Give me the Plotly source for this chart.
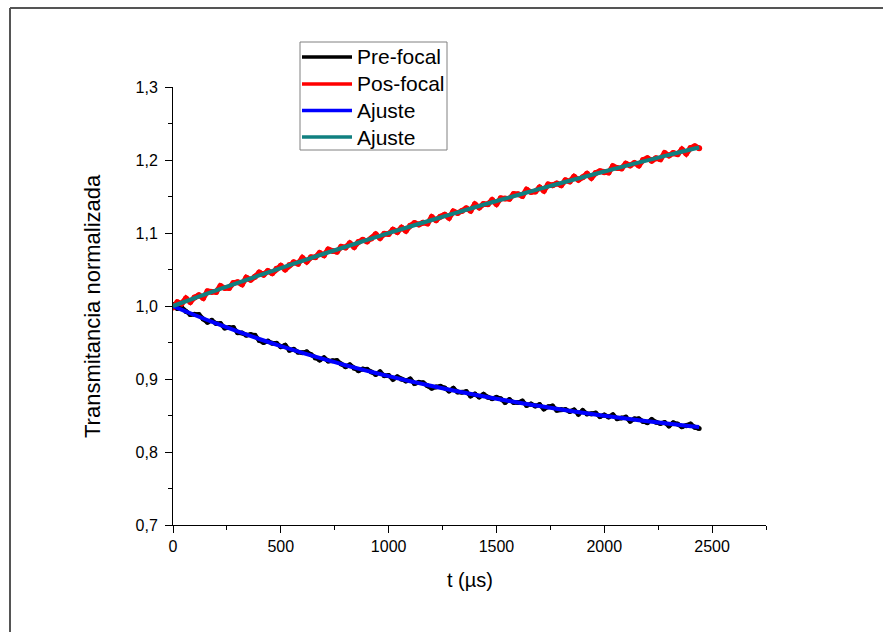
import plotly.graph_objects as go

# Sample times (µs) of the measured traces
t_data = list(range(0, 2441, 20))

# Normalized transmittance before the focus
pre_focal = [
    1.0020, 0.9965, 0.9981, 0.9926, 0.9882, 0.9887, 0.9884, 0.9821, 0.9777, 0.9804,
    0.9761, 0.9759, 0.9697, 0.9706, 0.9704, 0.9632, 0.9631, 0.9600, 0.9610, 0.9599,
    0.9528, 0.9499, 0.9519, 0.9490, 0.9490, 0.9441, 0.9463, 0.9394, 0.9406, 0.9367,
    0.9359, 0.9372, 0.9334, 0.9287, 0.9259, 0.9292, 0.9245, 0.9249, 0.9252, 0.9206,
    0.9169, 0.9194, 0.9148, 0.9113, 0.9137, 0.9132, 0.9097, 0.9063, 0.9098, 0.9044,
    0.9049, 0.8995, 0.9031, 0.8998, 0.8974, 0.9000, 0.8937, 0.8954, 0.8950, 0.8907,
    0.8874, 0.8892, 0.8900, 0.8877, 0.8835, 0.8873, 0.8821, 0.8819, 0.8828, 0.8766,
    0.8794, 0.8753, 0.8792, 0.8751, 0.8730, 0.8749, 0.8729, 0.8679, 0.8718, 0.8678,
    0.8678, 0.8698, 0.8638, 0.8659, 0.8629, 0.8649, 0.8590, 0.8620, 0.8631, 0.8571,
    0.8582, 0.8583, 0.8555, 0.8576, 0.8518, 0.8569, 0.8521, 0.8522, 0.8534, 0.8485,
    0.8507, 0.8479, 0.8511, 0.8454, 0.8466, 0.8478, 0.8421, 0.8454, 0.8456, 0.8419,
    0.8402, 0.8445, 0.8408, 0.8391, 0.8404, 0.8357, 0.8400, 0.8384, 0.8347, 0.8361,
    0.8384, 0.8338, 0.8322,
]

# Normalized transmittance after the focus
pos_focal = [
    0.9980, 1.0051, 1.0033, 1.0104, 1.0056, 1.0117, 1.0148, 1.0110, 1.0201, 1.0192,
    1.0193, 1.0274, 1.0245, 1.0245, 1.0316, 1.0327, 1.0297, 1.0388, 1.0358, 1.0399,
    1.0459, 1.0429, 1.0479, 1.0450, 1.0510, 1.0550, 1.0500, 1.0560, 1.0599, 1.0579,
    1.0659, 1.0608, 1.0668, 1.0667, 1.0727, 1.0696, 1.0775, 1.0754, 1.0743, 1.0812,
    1.0801, 1.0860, 1.0809, 1.0877, 1.0906, 1.0885, 1.0924, 1.0982, 1.0931, 1.0989,
    1.0988, 1.1046, 1.1014, 1.1073, 1.1031, 1.1099, 1.1137, 1.1115, 1.1142, 1.1130,
    1.1218, 1.1176, 1.1223, 1.1251, 1.1208, 1.1296, 1.1273, 1.1301, 1.1338, 1.1306,
    1.1393, 1.1350, 1.1397, 1.1394, 1.1451, 1.1398, 1.1475, 1.1471, 1.1468, 1.1534,
    1.1531, 1.1508, 1.1594, 1.1561, 1.1567, 1.1624, 1.1580, 1.1666, 1.1653, 1.1679,
    1.1655, 1.1721, 1.1707, 1.1772, 1.1728, 1.1764, 1.1810, 1.1756, 1.1821, 1.1847,
    1.1833, 1.1828, 1.1914, 1.1889, 1.1885, 1.1950, 1.1925, 1.1960, 1.1925, 1.2000,
    1.2025, 1.1990, 1.2025, 1.2010, 1.2095, 1.2060, 1.2095, 1.2079, 1.2144, 1.2088,
    1.2163, 1.2188, 1.2162,
]

# Fitted curves
t_fit = [0, 100, 200, 300, 400, 500, 600, 700, 800, 900, 1000, 1100, 1200, 1300,
         1400, 1500, 1600, 1700, 1800, 1900, 2000, 2100, 2200, 2300, 2400, 2440]
fit_pre = [1.0000, 0.9877, 0.9761, 0.9652, 0.9548, 0.9451, 0.9359, 0.9272, 0.9189,
           0.9112, 0.9039, 0.8970, 0.8904, 0.8843, 0.8784, 0.8729, 0.8678, 0.8629,
           0.8582, 0.8539, 0.8497, 0.8458, 0.8422, 0.8387, 0.8354, 0.8342]
fit_pos = [1.0000, 1.0107, 1.0213, 1.0317, 1.0419, 1.0520, 1.0619, 1.0716, 1.0811,
           1.0905, 1.0998, 1.1089, 1.1178, 1.1266, 1.1353, 1.1438, 1.1521, 1.1604,
           1.1685, 1.1764, 1.1843, 1.1920, 1.1995, 1.2070, 1.2143, 1.2172]

# Legend entries: label and colour
legend_labels = ["Pre-focal", "Pos-focal", "Ajuste", "Ajuste"]
legend_colors = ["#000000", "#ff0000", "#0000ff", "#108080"]

FONT = "Liberation Sans, Arial, sans-serif"
W, H = 883, 632
ML, MR, MT, MB = 173, 117, 87, 107
PW, PH = W - ML - MR, H - MT - MB

fig = go.Figure()
fig.add_trace(go.Scatter(x=t_data, y=pre_focal, mode="lines+markers", name=legend_labels[0],
                         line=dict(color=legend_colors[0], width=4.5),
                         marker=dict(color=legend_colors[0], size=5), showlegend=False))
fig.add_trace(go.Scatter(x=t_data, y=pos_focal, mode="lines+markers", name=legend_labels[1],
                         line=dict(color=legend_colors[1], width=5.5),
                         marker=dict(color=legend_colors[1], size=6), showlegend=False))
fig.add_trace(go.Scatter(x=t_fit, y=fit_pre, mode="lines", name=legend_labels[2],
                         line=dict(color=legend_colors[2], width=4, shape="spline"),
                         showlegend=False))
fig.add_trace(go.Scatter(x=t_fit, y=fit_pos, mode="lines", name=legend_labels[3],
                         line=dict(color=legend_colors[3], width=4, shape="spline"),
                         showlegend=False))

axis_common = dict(
    showgrid=False, zeroline=False, showline=True, linecolor="black", linewidth=1,
    ticks="outside", ticklen=7, tickwidth=1, tickcolor="black",
    tickfont=dict(family=FONT, size=16, color="black"),
)
fig.update_xaxes(range=[0, 2750], dtick=500, tick0=0,
                 minor=dict(dtick=250, ticks="outside", ticklen=4, tickcolor="black"),
                 **axis_common)
fig.update_yaxes(range=[0.7, 1.3], dtick=0.1, tick0=0.7, tickformat=".1f",
                 ticklabelstandoff=4,
                 minor=dict(dtick=0.05, ticks="outside", ticklen=4, tickcolor="black"),
                 **axis_common)


def px_x(px):
    return (px - ML) / PW


def px_y(py):
    return (H - MB - py) / PH


frame = dict(line=dict(color="#555555", width=2), xref="paper", yref="paper",
             type="line", layer="below")
shapes = [
    dict(x0=px_x(10), y0=px_y(8), x1=px_x(W), y1=px_y(8), **frame),
    dict(x0=px_x(10), y0=px_y(8), x1=px_x(10), y1=px_y(H), **frame),
    # legend box
    dict(type="rect", xref="paper", yref="paper",
         x0=px_x(300), y0=px_y(42), x1=px_x(447), y1=px_y(150),
         line=dict(color="#808080", width=1), fillcolor="white", layer="above"),
]
annotations = [
    dict(text="t (µs)", xref="paper", yref="paper", x=0.5, y=0, yshift=-55,
         xanchor="center", yanchor="middle", showarrow=False,
         font=dict(family=FONT, size=20, color="black")),
    dict(text="Transmitancia normalizada", xref="paper", yref="paper", x=0, y=0.5,
         xshift=-81, xanchor="center", yanchor="middle", textangle=-90,
         showarrow=False, font=dict(family=FONT, size=22, color="black")),
]

row_y = [57, 84, 110.5, 137]
for label, color, ry in zip(legend_labels, legend_colors, row_y):
    shapes.append(dict(type="line", xref="paper", yref="paper",
                       x0=px_x(302), x1=px_x(352), y0=px_y(ry), y1=px_y(ry),
                       line=dict(color=color, width=3.5), layer="above"))
    annotations.append(dict(text=label, xref="paper", yref="paper",
                            x=px_x(355), y=px_y(ry), xanchor="left", yanchor="middle",
                            showarrow=False,
                            font=dict(family=FONT, size=21, color="black")))

fig.update_layout(
    width=W, height=H,
    margin=dict(l=ML, r=MR, t=MT, b=MB),
    paper_bgcolor="white", plot_bgcolor="white",
    separators=", ",
    showlegend=False,
    shapes=shapes,
    annotations=annotations,
)

fig.write_html("out.html")
